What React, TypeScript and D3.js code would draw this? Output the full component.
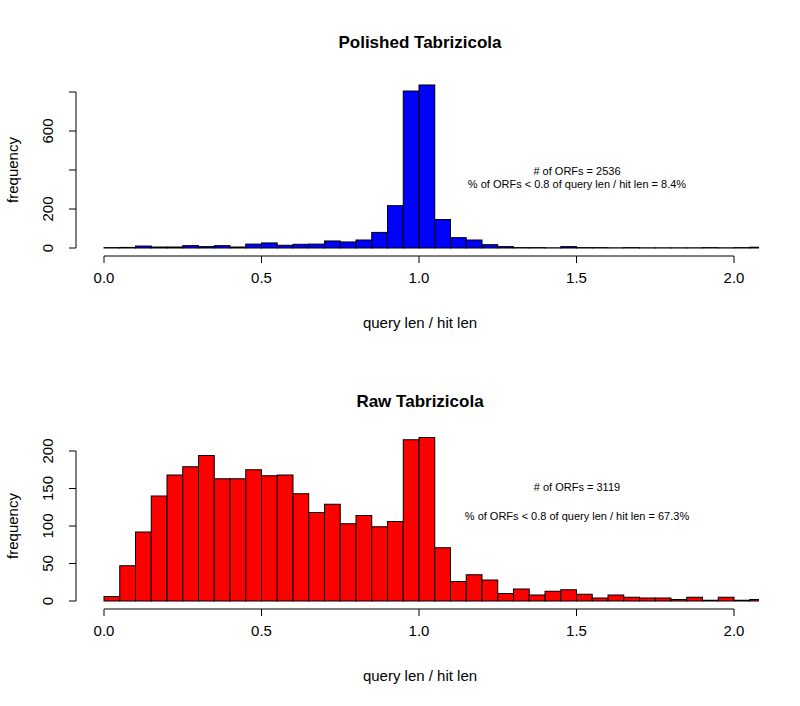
import * as d3 from "d3";

const binWidth = 0.05;
const polished = [2, 3, 10, 5, 5, 12, 7, 12, 5, 20, 26, 14, 19, 20, 36, 31, 41, 80, 217, 805, 836, 146, 53, 41, 17, 7, 2, 2, 1, 7, 2, 2, 1, 2, 1, 1, 1, 1, 2, 1, 2, 4];
const raw = [6, 47, 92, 140, 168, 179, 194, 163, 163, 175, 167, 168, 143, 118, 129, 103, 114, 99, 106, 215, 218, 71, 26, 35, 28, 10, 16, 8, 13, 15, 9, 4, 8, 5, 4, 4, 2, 5, 1, 5, 1, 2];
const xTicks = [0, 0.5, 1, 1.5, 2];

const panels = [
  { title: "Polished Tabrizicola", data: polished, color: "#0000ff", top: 92, base: 248, yMax: 800, yTicks: [0, 200, 400, 600, 800], yLabels: [0, 200, 600], n: "2536", pct: "8.4%", t1: 171, t2: 184 },
  { title: "Raw Tabrizicola", data: raw, color: "#ff0000", top: 451, base: 601, yMax: 200, yTicks: [0, 50, 100, 150, 200], yLabels: [0, 50, 100, 150, 200], n: "3119", pct: "67.3%", t1: 487, t2: 516 },
];

export default function App() {
  const x = d3.scaleLinear().domain([0, 2]).range([104, 734]);
  const font = "Liberation Sans, Arial, sans-serif";
  return (
    <svg width={800} height={706} style={{ position: "absolute", left: 0, top: 0 }} fontFamily={font}>
      <rect width={800} height={706} fill="#fff" />
      <defs>
        <clipPath id="clip"><rect x={0} y={0} width={759} height={706} /></clipPath>
      </defs>
      {panels.map((p, pi) => {
        const y = d3.scaleLinear().domain([0, p.yMax]).range([p.base, p.top]);
        const axY = p.base + 8;
        return (
          <g key={pi}>
            <text x={420} y={p.top - 44} textAnchor="middle" fontSize={17} fontWeight="bold">{p.title}</text>
            <g clipPath="url(#clip)">
              {p.data.map((v, i) => (
                <rect key={i} x={x(i * binWidth)} y={y(v)} width={x(binWidth) - x(0)} height={p.base - y(v)} fill={p.color} stroke="#000" strokeWidth={1} />
              ))}
            </g>
            <line x1={x(0)} x2={x(2)} y1={axY} y2={axY} stroke="#000" />
            {xTicks.map((t) => (
              <g key={t}>
                <line x1={x(t)} x2={x(t)} y1={axY} y2={axY + 7} stroke="#000" />
                <text x={x(t)} y={axY + 27} textAnchor="middle" fontSize={15}>{t.toFixed(1)}</text>
              </g>
            ))}
            <text x={420} y={axY + 72} textAnchor="middle" fontSize={15}>query len / hit len</text>
            <line x1={76} x2={76} y1={y(0)} y2={y(p.yMax)} stroke="#000" />
            {p.yTicks.map((t) => (
              <g key={t}>
                <line x1={69} x2={76} y1={y(t)} y2={y(t)} stroke="#000" />
                {p.yLabels.includes(t) && (
                  <text transform={`translate(53,${y(t)}) rotate(-90)`} textAnchor="middle" fontSize={15}>{t}</text>
                )}
              </g>
            ))}
            <text transform={`translate(18,${(p.top + p.base) / 2}) rotate(-90)`} textAnchor="middle" fontSize={15}>frequency</text>
            <text x={577} y={p.t1 + 4} textAnchor="middle" fontSize={11}>{`# of ORFs = ${p.n}`}</text>
            <text x={577} y={p.t2 + 4} textAnchor="middle" fontSize={11}>{`% of ORFs < 0.8 of query len / hit len = ${p.pct}`}</text>
          </g>
        );
      })}
    </svg>
  );
}
